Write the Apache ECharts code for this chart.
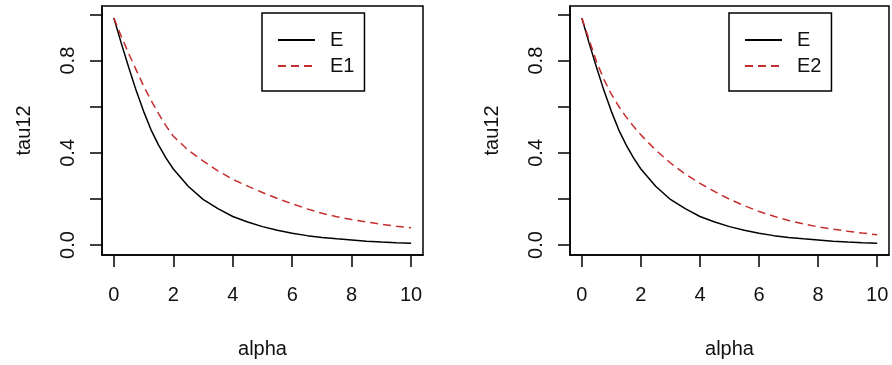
<!DOCTYPE html>
<html>
<head>
<meta charset="utf-8">
<script src="https://cdn.jsdelivr.net/npm/echarts@6/dist/echarts.min.js"></script>
<style>
html,body{margin:0;padding:0;background:#fff;}
#chart{width:892px;height:365px;}
</style>
</head>
<body>
<div id="chart"></div>
<script>
// ---- data ----
var alpha = [0, 0.25, 0.5, 0.75, 1, 1.25, 1.5, 1.75, 2, 2.5, 3, 3.5, 4, 4.5, 5, 5.5, 6, 6.5, 7, 7.5, 8, 8.5, 9, 9.5, 10];
var tauE  = [0.985, 0.875, 0.77, 0.67, 0.58, 0.50, 0.435, 0.378, 0.33, 0.255, 0.198, 0.158, 0.124, 0.100, 0.080, 0.064, 0.051, 0.041, 0.033, 0.027, 0.022, 0.017, 0.013, 0.010, 0.008];
var tauE1 = [0.985, 0.905, 0.83, 0.76, 0.69, 0.628, 0.57, 0.518, 0.472, 0.412, 0.365, 0.322, 0.285, 0.256, 0.228, 0.202, 0.179, 0.157, 0.138, 0.123, 0.111, 0.100, 0.090, 0.082, 0.075];
var tauE2 = [0.985, 0.89, 0.795, 0.718, 0.655, 0.602, 0.556, 0.515, 0.478, 0.412, 0.356, 0.308, 0.268, 0.232, 0.199, 0.171, 0.146, 0.125, 0.107, 0.092, 0.079, 0.069, 0.060, 0.052, 0.045];
var xTicks = [0, 2, 4, 6, 8, 10];
var yTicks = [0, 0.2, 0.4, 0.6, 0.8, 1.0];
var yTickLabels = [0, 0.4, 0.8];
var xName = 'alpha';
var yName = 'tau12';
var seriesNamesLeft = ['E', 'E1'];
var seriesNamesRight = ['E', 'E2'];

function pairs(xs, ys) { return xs.map(function (x, i) { return [x, ys[i]]; }); }

var FONT = "'Liberation Sans', Arial, sans-serif";
var TXT = '#111';
var RED = '#c62d2d';

function xAxisCfg(gi) {
  return {
    type: 'value', gridIndex: gi, min: -0.4, max: 10.4, position: 'bottom',
    name: xName, nameLocation: 'middle', nameGap: 84,
    nameTextStyle: { fontFamily: FONT, fontSize: 20, color: TXT },
    axisLine: { show: true, onZero: false, lineStyle: { color: '#000', width: 1.5 } },
    axisTick: { show: true, inside: false, length: 12, customValues: xTicks, lineStyle: { color: '#000', width: 1.5 } },
    axisLabel: { show: true, customValues: xTicks, margin: 30, fontFamily: FONT, fontSize: 20, color: TXT },
    splitLine: { show: false }
  };
}
function yAxisCfg(gi) {
  return {
    type: 'value', gridIndex: gi, min: -0.043, max: 1.037, position: 'left',
    name: yName, nameLocation: 'middle', nameGap: 68,
    nameTextStyle: { fontFamily: FONT, fontSize: 20, color: TXT },
    axisLine: { show: true, onZero: false, lineStyle: { color: '#000', width: 1.5 } },
    axisTick: { show: true, inside: false, length: 12, customValues: yTicks, lineStyle: { color: '#000', width: 1.5 } },
    axisLabel: { show: true, customValues: yTickLabels, rotate: 90, margin: 24, fontFamily: FONT, fontSize: 20, color: TXT,
      formatter: function (v) { return Number(v).toFixed(1); } },
    splitLine: { show: false }
  };
}
function legendCfg(names, left) {
  return {
    data: names, left: left, top: 13, orient: 'vertical',
    itemWidth: 37, itemHeight: 20, itemGap: 6,
    padding: [17, 10, 15, 15],
    borderColor: '#000', borderWidth: 1.5, borderRadius: 0,
    selectedMode: false,
    itemStyle: { color: 'transparent', borderColor: 'transparent', borderWidth: 0, opacity: 0 },
    textStyle: { fontFamily: FONT, fontSize: 20, color: TXT, padding: [0, 0, 0, 10] }
  };
}
function lineSeries(name, xi, ys, color, dashed) {
  return {
    name: name, type: 'line', xAxisIndex: xi, yAxisIndex: xi, data: pairs(alpha, ys),
    symbol: 'none', smooth: false, color: color,
    lineStyle: { color: color, width: 1.5, type: dashed ? [8, 5] : 'solid' }
  };
}

var chart = echarts.init(document.getElementById('chart'), null, { renderer: 'canvas' });
chart.setOption({
  animation: false,
  backgroundColor: '#fff',
  grid: [
    { left: 102, top: 6, width: 321, height: 249, show: true, borderColor: '#000', borderWidth: 1.5, backgroundColor: 'transparent' },
    { left: 570, top: 6, width: 319, height: 249, show: true, borderColor: '#000', borderWidth: 1.5, backgroundColor: 'transparent' }
  ],
  xAxis: [xAxisCfg(0), xAxisCfg(1)],
  yAxis: [yAxisCfg(0), yAxisCfg(1)],
  legend: [legendCfg(seriesNamesLeft, 262), legendCfg(seriesNamesRight, 729)],
  series: [
    lineSeries(seriesNamesLeft[0], 0, tauE, '#000', false),
    lineSeries(seriesNamesLeft[1], 0, tauE1, RED, true),
    lineSeries(seriesNamesRight[0], 1, tauE, '#000', false),
    lineSeries(seriesNamesRight[1], 1, tauE2, RED, true)
  ]
});
</script>
</body>
</html>
